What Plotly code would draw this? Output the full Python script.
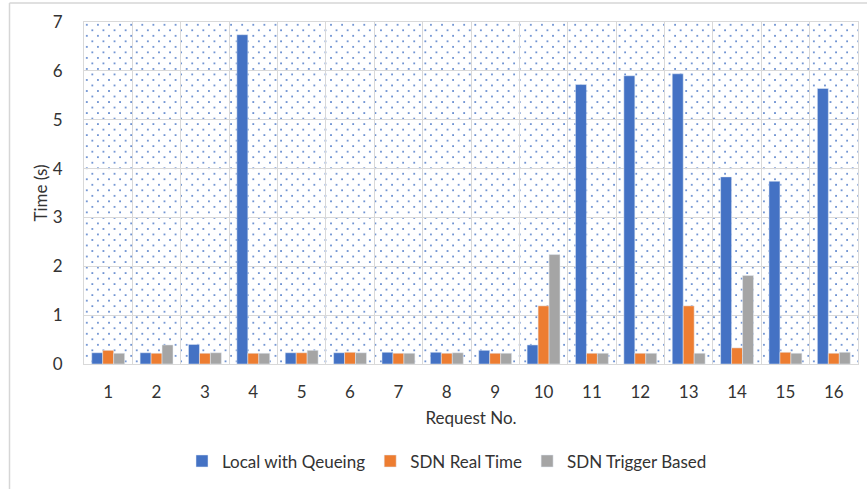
import base64
import plotly.graph_objects as go

# Request numbers and response times (seconds) per strategy
requests = [str(i) for i in range(1, 17)]
local_queueing = [0.23, 0.23, 0.40, 6.74, 0.23, 0.23, 0.24, 0.24, 0.28, 0.39,
                  5.72, 5.90, 5.94, 3.83, 3.74, 5.64]
sdn_real_time = [0.28, 0.22, 0.22, 0.22, 0.23, 0.24, 0.22, 0.22, 0.22, 1.19,
                 0.22, 0.22, 1.19, 0.33, 0.24, 0.22]
sdn_trigger = [0.22, 0.39, 0.23, 0.22, 0.28, 0.23, 0.22, 0.23, 0.22, 2.24,
               0.22, 0.22, 0.22, 1.81, 0.22, 0.24]
y_ticks = [0, 1, 2, 3, 4, 5, 6, 7]

W, H = 867, 489
ML, MR, MT, MB = 84, 9, 22, 123
PW, PH = W - ML - MR, H - MT - MB

FONT = "Lato, 'Open Sans', sans-serif"
FS = 17
TEXT = "#333333"
GRID = "#D9D9D9"

# Dotted fill for the plotting area, tiled as an SVG pattern
svg = (
    f'<svg xmlns="http://www.w3.org/2000/svg" width="{PW}" height="{PH}" '
    f'viewBox="0 0 {PW} {PH}" preserveAspectRatio="none">'
    '<defs><pattern id="d" width="11.1" height="11.1" patternUnits="userSpaceOnUse">'
    '<rect x="2" y="2" width="1.6" height="1.6" fill="#4472C4"/>'
    '<rect x="7.55" y="7.55" width="1.6" height="1.6" fill="#4472C4"/>'
    '</pattern></defs>'
    f'<rect width="{PW}" height="{PH}" fill="url(#d)"/></svg>'
)
dots_uri = "data:image/svg+xml;base64," + base64.b64encode(svg.encode()).decode()

fig = go.Figure()
fig.add_trace(go.Bar(name="Local with Qeueing", x=requests, y=local_queueing,
                     marker_color="#4472C4"))
fig.add_trace(go.Bar(name="SDN Real Time", x=requests, y=sdn_real_time,
                     marker_color="#ED7D31"))
fig.add_trace(go.Bar(name="SDN Trigger Based", x=requests, y=sdn_trigger,
                     marker_color="#A5A5A5"))

def px_to_paper_x(px):
    return (px - ML) / PW

def px_to_paper_y(py):
    return (H - MB - py) / PH

fig.update_layout(
    width=W, height=H,
    margin=dict(l=ML, r=MR, t=MT, b=MB),
    paper_bgcolor="white", plot_bgcolor="white",
    barmode="group", bargap=0.32, bargroupgap=0,
    font=dict(family=FONT, size=FS, color=TEXT),
    images=[dict(source=dots_uri, xref="paper", yref="paper", x=0, y=1,
                 sizex=1, sizey=1, xanchor="left", yanchor="top",
                 sizing="stretch", layer="below")],
    legend=dict(orientation="h", x=px_to_paper_x(447), xanchor="center",
                y=px_to_paper_y(464), yanchor="middle",
                font=dict(family=FONT, size=FS, color=TEXT),
                itemwidth=30, traceorder="normal"),
    shapes=[
        dict(type="line", xref="paper", yref="paper",
             x0=px_to_paper_x(9.5), x1=px_to_paper_x(9.5),
             y0=px_to_paper_y(3), y1=px_to_paper_y(495),
             line=dict(color="#D6D6D6", width=1.5)),
        dict(type="line", xref="paper", yref="paper",
             x0=px_to_paper_x(9.5), x1=px_to_paper_x(875),
             y0=px_to_paper_y(3), y1=px_to_paper_y(3),
             line=dict(color="#D6D6D6", width=1.5)),
    ],
)

fig.update_xaxes(
    type="category", tickson="boundaries", ticks="", showgrid=True,
    gridcolor=GRID, gridwidth=1, showline=True, linecolor=GRID, linewidth=1,
    mirror=True, ticklabelstandoff=13,
    tickfont=dict(family=FONT, size=FS, color=TEXT),
    title=dict(text="Request No.", standoff=10,
               font=dict(family=FONT, size=FS, color=TEXT)),
)
fig.update_yaxes(
    range=[0, 7], tickvals=y_ticks, ticks="", showgrid=True,
    gridcolor=GRID, gridwidth=1, showline=True, linecolor=GRID, linewidth=1,
    mirror=True, zeroline=False, ticklabelstandoff=17,
    tickfont=dict(family=FONT, size=FS, color=TEXT),
    title=dict(text="Time (s)", standoff=0,
               font=dict(family=FONT, size=FS, color=TEXT)),
)

fig.write_html("out.html")
